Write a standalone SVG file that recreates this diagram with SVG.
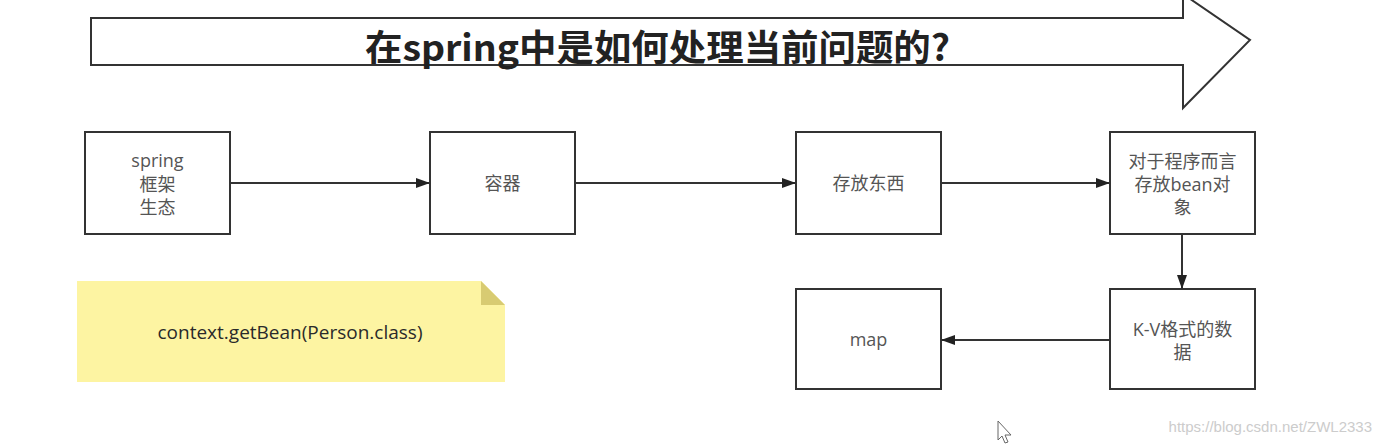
<svg xmlns="http://www.w3.org/2000/svg" width="1381" height="445" viewBox="0 0 1381 445">
<defs>
<marker id="ah" markerWidth="14" markerHeight="10" refX="13" refY="5" orient="auto" markerUnits="userSpaceOnUse">
<path d="M0,0 L14,5 L0,10 Z" fill="#222"/>
</marker>
<style>
.box{fill:#fff;stroke:#333;stroke-width:2}
.lbl{font-family:"Open Sans","Noto Sans CJK SC",sans-serif;font-size:18px;fill:#555;text-anchor:middle}
.conn{stroke:#333;stroke-width:2;fill:none;marker-end:url(#ah)}
</style>
</defs>
<rect width="1381" height="445" fill="#fff"/>
<g id="title">
<path d="M91,18 L1183,18 L1183,-6 L1250,40 L1183,108 L1183,65 L91,65 Z" fill="#fff" stroke="#333" stroke-width="2"/>
<text x="365" y="61" textLength="585" lengthAdjust="spacingAndGlyphs" font-family="'Noto Sans CJK SC',sans-serif" font-weight="bold" font-size="36" fill="#222">在spring中是如何处理当前问题的?</text>
</g>
<g id="n1"><rect class="box" x="85" y="132" width="145" height="102"/>
<text class="lbl" x="157.5" y="167">spring</text><text class="lbl" x="157.5" y="191">框架</text><text class="lbl" x="157.5" y="214">生态</text></g>
<g id="n2"><rect class="box" x="430" y="132" width="145" height="102"/><text class="lbl" x="502.5" y="190">容器</text></g>
<g id="n3"><rect class="box" x="796" y="132" width="145" height="102"/><text class="lbl" x="868.5" y="190">存放东西</text></g>
<g id="n4"><rect class="box" x="1110" y="132" width="145" height="102"/>
<text class="lbl" x="1182.5" y="168">对于程序而言</text><text class="lbl" x="1182.5" y="191">存放bean对</text><text class="lbl" x="1182.5" y="214">象</text></g>
<g id="n5"><rect class="box" x="1110" y="289" width="145" height="100"/>
<text class="lbl" x="1182.5" y="336">K-V格式的数</text><text class="lbl" x="1182.5" y="359">据</text></g>
<g id="n6"><rect class="box" x="796" y="289" width="145" height="100"/><text class="lbl" x="868.5" y="346">map</text></g>
<g id="note">
<path d="M77,281 L481,281 L505,305 L505,382 L77,382 Z" fill="#fdf4a2"/>
<path d="M481,281 L505,305 L481,305 Z" fill="#d8cb72"/>
<text x="290" y="339" font-family="'Open Sans',sans-serif" font-size="19" fill="#2a2a2a" text-anchor="middle">context.getBean(Person.class)</text>
</g>
<g id="connectors">
<line class="conn" x1="231" y1="183" x2="429" y2="183"/>
<line class="conn" x1="576" y1="183" x2="795" y2="183"/>
<line class="conn" x1="942" y1="183" x2="1109" y2="183"/>
<line class="conn" x1="1182" y1="235" x2="1182" y2="288"/>
<line class="conn" x1="1109" y1="340" x2="942" y2="340"/>
</g>
<path d="M998,421 L998,440 L1002,436 L1005,443 L1008,442 L1005,435 L1011,435 Z" fill="#fff" stroke="#666" stroke-width="1"/>
<text x="1372" y="432" font-family="'Liberation Sans',sans-serif" font-size="15" fill="#ccc" text-anchor="end">https://blog.csdn.net/ZWL2333</text>
</svg>
